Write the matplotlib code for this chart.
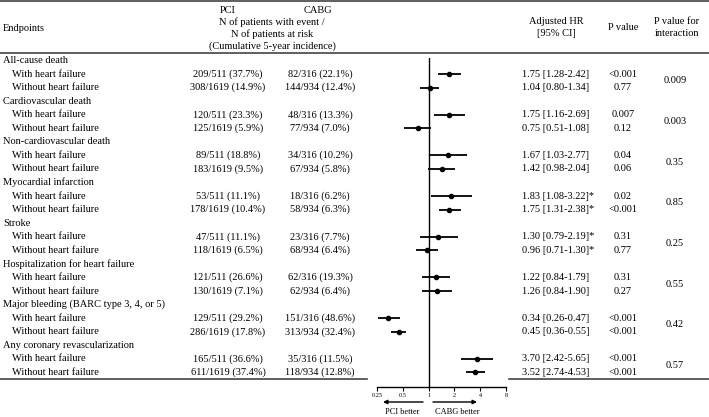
import numpy as np
import matplotlib.pyplot as plt

plt.rcParams['font.family'] = ['Liberation Serif', 'DejaVu Serif']

# 数据
endpoints = ["All-cause death", "Cardiovascular death", "Non-cardiovascular death",
             "Myocardial infarction", "Stroke", "Hospitalization for heart failure",
             "Major bleeding (BARC type 3, 4, or 5)", "Any coronary revascularization"]
subgroups = ["With heart failure", "Without heart failure"]

pci_n = [511, 1619]
cabg_n = [316, 934]

pci_ev_with = [209, 120, 89, 53, 47, 121, 129, 165]
pci_pct_with = [37.7, 23.3, 18.8, 11.1, 11.1, 26.6, 29.2, 36.6]
pci_ev_without = [308, 125, 183, 178, 118, 130, 286, 611]
pci_pct_without = [14.9, 5.9, 9.5, 10.4, 6.5, 7.1, 17.8, 37.4]
cabg_ev_with = [82, 48, 34, 18, 23, 62, 151, 35]
cabg_pct_with = [22.1, 13.3, 10.2, 6.2, 7.7, 19.3, 48.6, 11.5]
cabg_ev_without = [144, 77, 67, 58, 68, 62, 313, 118]
cabg_pct_without = [12.4, 7.0, 5.8, 6.3, 6.4, 6.4, 32.4, 12.8]

hr_with = [1.75, 1.75, 1.67, 1.83, 1.30, 1.22, 0.34, 3.70]
lo_with = [1.28, 1.16, 1.03, 1.08, 0.79, 0.84, 0.26, 2.42]
hi_with = [2.42, 2.69, 2.77, 3.22, 2.19, 1.79, 0.47, 5.65]
hr_without = [1.04, 0.75, 1.42, 1.75, 0.96, 1.26, 0.45, 3.52]
lo_without = [0.80, 0.51, 0.98, 1.31, 0.71, 0.84, 0.36, 2.74]
hi_without = [1.34, 1.08, 2.04, 2.38, 1.30, 1.90, 0.55, 4.53]
star = [False, False, False, True, True, False, False, False]

p_with = ["<0.001", "0.007", "0.04", "0.02", "0.31", "0.31", "<0.001", "<0.001"]
p_without = ["0.77", "0.12", "0.06", "<0.001", "0.77", "0.27", "<0.001", "<0.001"]
p_inter = ["0.009", "0.003", "0.35", "0.85", "0.25", "0.55", "0.42", "0.57"]

xticks = [0.25, 0.5, 1, 2, 4, 8]
xtick_labels = ["0.25", "0.5", "1", "2", "4", "8"]

# %%
W, H = 709, 417
fig = plt.figure(figsize=(W / 100, H / 100), dpi=100)
tab = fig.add_axes([0, 0, 1, 1])
tab.set_xlim(0, W)
tab.set_ylim(H, 0)
tab.axis('off')

fs = 7.5
row0, dy = 60.5, 13.56
line_c = '#444444'

def row_y(i):
    return row0 + dy * i

# 表头
tab.plot([0, W], [1, 1], color=line_c, lw=1.2)
tab.plot([0, W], [52.5, 52.5], color=line_c, lw=1.2)
tab.text(3, 28, "Endpoints", fontsize=fs, va='center')
tab.text(228, 10, "PCI", fontsize=fs, ha='center', va='center')
tab.text(318, 10, "CABG", fontsize=fs, ha='center', va='center')
tab.text(272, 22, "N of patients with event /", fontsize=fs, ha='center', va='center')
tab.text(272, 34, "N of patients at risk", fontsize=fs, ha='center', va='center')
tab.text(272, 46, "(Cumulative 5-year incidence)", fontsize=fs, ha='center', va='center')
tab.text(556, 21, "Adjusted HR", fontsize=fs, ha='center', va='center')
tab.text(556, 33, "[95% CI]", fontsize=fs, ha='center', va='center')
tab.text(623, 27, "P value", fontsize=fs, ha='center', va='center')
tab.text(677, 21, "P value for", fontsize=fs, ha='center', va='center')
tab.text(677, 33, "interaction", fontsize=fs, ha='center', va='center')

# 表格内容
rows_y = []
for k, name in enumerate(endpoints):
    base = 3 * k
    tab.text(3, row_y(base), name, fontsize=fs, va='center')
    pci_ev = [pci_ev_with[k], pci_ev_without[k]]
    pci_pct = [pci_pct_with[k], pci_pct_without[k]]
    cabg_ev = [cabg_ev_with[k], cabg_ev_without[k]]
    cabg_pct = [cabg_pct_with[k], cabg_pct_without[k]]
    hrs = [(hr_with[k], lo_with[k], hi_with[k]), (hr_without[k], lo_without[k], hi_without[k])]
    ps = [p_with[k], p_without[k]]
    for j in range(2):
        y = row_y(base + 1 + j)
        rows_y.append(base + 1 + j)
        tab.text(12, y, subgroups[j], fontsize=fs, va='center')
        tab.text(228, y, f"{pci_ev[j]}/{pci_n[j]} ({pci_pct[j]:.1f}%)", fontsize=fs, ha='center', va='center')
        tab.text(320, y, f"{cabg_ev[j]}/{cabg_n[j]} ({cabg_pct[j]:.1f}%)", fontsize=fs, ha='center', va='center')
        hr, lo, hi = hrs[j]
        s = f"{hr:.2f} [{lo:.2f}-{hi:.2f}]"
        if star[k]:
            s += "*"
        tab.text(522, y, s, fontsize=fs, ha='left', va='center')
        tab.text(623, y, ps[j], fontsize=fs, ha='center', va='center')
    tab.text(675, (row_y(base + 1) + row_y(base + 2)) / 2, p_inter[k], fontsize=fs, ha='center', va='center')

tab.plot([0, 367], [379, 379], color=line_c, lw=1.2)
tab.plot([509, W], [379, 379], color=line_c, lw=1.2)

# %%
# 森林图
x0, x1 = 377, 506
ytop, ybot = 58, 387
ax = fig.add_axes([x0 / W, 1 - ybot / H, (x1 - x0) / W, (ybot - ytop) / H])
ax.patch.set_alpha(0)
ax.set_xscale('log', base=2)
ax.set_xlim(0.25, 8)
ax.set_ylim((ybot - row0) / dy, (ytop - row0) / dy)

hr_all, lo_all, hi_all = [], [], []
for k in range(len(endpoints)):
    hr_all += [hr_with[k], hr_without[k]]
    lo_all += [lo_with[k], lo_without[k]]
    hi_all += [hi_with[k], hi_without[k]]
hr_all = np.array(hr_all)
ax.errorbar(hr_all, rows_y, xerr=[hr_all - np.array(lo_all), np.array(hi_all) - hr_all],
            fmt='o', color='black', ms=3, elinewidth=1.3, capsize=0)
ax.axvline(1, color='black', lw=1)

for s in ['top', 'right', 'left']:
    ax.spines[s].set_visible(False)
ax.spines['bottom'].set_linewidth(1)
ax.set_yticks([])
ax.set_xticks(xticks)
ax.set_xticklabels(xtick_labels)
ax.minorticks_off()
ax.tick_params(axis='x', length=3, width=0.8, labelsize=4.5, pad=1)

# 箭头
arrow = dict(arrowstyle='-|>', color='black', lw=1, mutation_scale=6, shrinkA=0, shrinkB=0)
tab.annotate("", xy=(383, 402), xytext=(423, 402), arrowprops=arrow)
tab.annotate("", xy=(477, 402), xytext=(433, 402), arrowprops=arrow)
tab.text(402, 412, "PCI better", fontsize=6, ha='center', va='center')
tab.text(457, 412, "CABG better", fontsize=6, ha='center', va='center')

fig.savefig("out.png", dpi=100)
